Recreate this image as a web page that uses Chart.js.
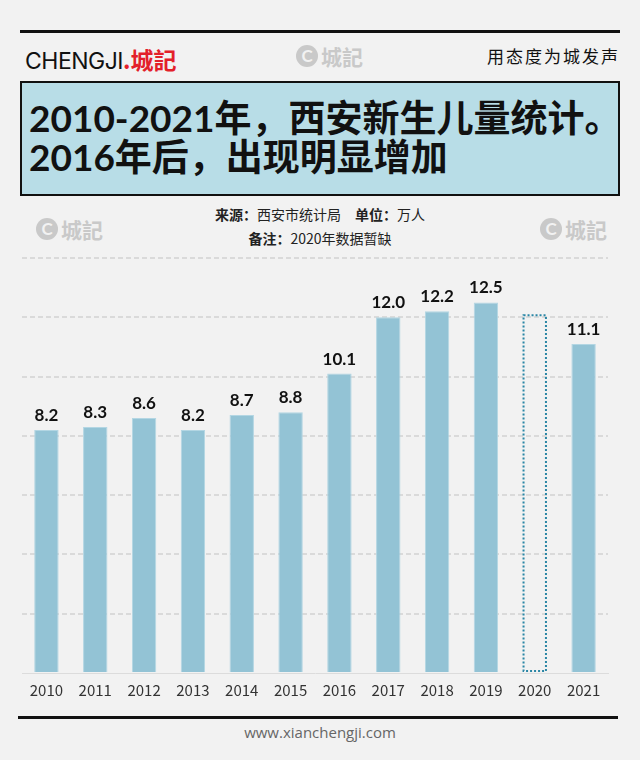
<!DOCTYPE html>
<html>
<head>
<meta charset="utf-8">
<script src="https://cdn.jsdelivr.net/npm/chart.js@4"></script>
<style>
  html, body { margin: 0; padding: 0; }
  body { width: 640px; height: 760px; background: #f2f2f2; position: relative; overflow: hidden; font-family: "Noto Sans CJK SC", sans-serif; }
  .rule { position: absolute; background: #111; }
  .logo { position: absolute; left: 25px; top: 42px; font: 400 23px Inter, "Noto Sans CJK SC"; letter-spacing: -0.5px; color: #111; }
  .logo .red { color: #e3202a; font-family: "Noto Sans CJK SC"; font-weight: 700; letter-spacing: 0; }
  .slogan { position: absolute; right: 20px; top: 43px; font: 400 17px "Noto Sans CJK SC"; letter-spacing: 2px; color: #111; }
  .mark { position: absolute; display: flex; align-items: center; color: #c9c9c9; font: 700 21px "Noto Sans CJK SC"; }
  .mark b { display: inline-block; width: 22px; height: 22px; border-radius: 50%; background: #c9c9c9; color: #f2f2f2; font: 700 17px Lato; line-height: 22px; text-align: center; margin-right: 3px; }
  .titlebox { position: absolute; left: 20px; top: 81px; width: 596px; height: 111px; background: #b8dde7; border: 2px solid #111; }
  .titlebox div { position: absolute; left: 7px; font: 700 37px Lato, "Noto Sans CJK SC"; line-height: 40px; color: #111; white-space: nowrap; }
  .sub { position: absolute; left: 0; width: 640px; text-align: center; font: 400 14px "Noto Sans CJK SC"; color: #222; }
  .sub b { font-weight: 700; }
  .chartbox { position: absolute; left: 0; top: 250px; width: 640px; height: 460px; }
  .url { position: absolute; left: 0; width: 640px; top: 722px; text-align: center; font: 400 15px "Open Sans"; color: #666; }
</style>
</head>
<body>
<div class="rule" style="left:20px; top:30px; width:600px; height:3px"></div>
<div class="logo">CHENGJI<span class="red">.城記</span></div>
<div class="mark" style="left:296px; top:41px"><b>C</b>城記</div>
<div class="slogan">用态度为城发声</div>

<div class="titlebox">
  <div style="top:15px">2010-2021年，西安新生儿量统计。</div>
  <div style="top:54px">2016年后，出现明显增加</div>
</div>

<div class="sub" style="top:204px"><b>来源：</b>西安市统计局　<b>单位：</b>万人</div>
<div class="sub" style="top:228px"><b>备注：</b>2020年数据暂缺</div>
<div class="mark" style="left:36px; top:214px"><b>C</b>城記</div>
<div class="mark" style="left:540px; top:214px"><b>C</b>城記</div>

<div class="chartbox"><canvas id="births"></canvas></div>

<div class="rule" style="left:18px; top:716px; width:600px; height:3px"></div>
<div class="url">www.xianchengji.com</div>

<script>
const years = ['2010', '2011', '2012', '2013', '2014', '2015', '2016', '2017', '2018', '2019', '2020', '2021']
const births = [8.2, 8.3, 8.6, 8.2, 8.7, 8.8, 10.1, 12.0, 12.2, 12.5, null, 11.1]
// 2020 has no data, only a dotted placeholder bar
const missing = [null, null, null, null, null, null, null, null, null, null, 12.1, null]

const barLabels = {
  id: 'barLabels',
  afterDatasetsDraw (chart) {
    const ctx = chart.ctx
    ctx.save()
    ctx.font = 'bold 17px Lato'
    ctx.fillStyle = '#111'
    ctx.textAlign = 'center'
    ctx.textBaseline = 'bottom'
    chart.getDatasetMeta(0).data.forEach((bar, i) => {
      if (births[i] == null) return
      ctx.fillText(births[i].toFixed(1), bar.x, bar.y - 6)
    })
    ctx.setLineDash([2, 2])
    ctx.lineWidth = 2
    ctx.strokeStyle = '#2a86a5'
    chart.getDatasetMeta(1).data.forEach((bar, i) => {
      if (missing[i] == null) return
      const w = bar.width - 2
      ctx.strokeRect(bar.x - w / 2, bar.y + 1, w, bar.base - bar.y - 2)
    })
    ctx.restore()
  }
}

window.addEventListener('load', function () {
  const ctx = document.getElementById('births').getContext('2d')
  // eslint-disable-next-line no-unused-vars
  const chart = new Chart(ctx, {
    type: 'bar',
    data: {
      labels: years,
      datasets: [
        {
          data: births,
          backgroundColor: '#93c3d5',
          borderColor: '#b3d6e3',
          borderWidth: 1,
          grouped: false,
          categoryPercentage: 1,
          barPercentage: 0.5
        },
        {
          data: missing,
          backgroundColor: 'rgba(0,0,0,0)',
          borderWidth: 0,
          grouped: false,
          categoryPercentage: 1,
          barPercentage: 0.5
        }
      ]
    },
    options: {
      responsive: true,
      maintainAspectRatio: false,
      animation: false,
      layout: { padding: { left: 22, right: 32, top: 8, bottom: 3 } },
      plugins: {
        legend: { display: false },
        tooltip: { enabled: false }
      },
      scales: {
        x: {
          grid: { display: false, drawTicks: false },
          border: { display: true, color: '#dcdcdc', width: 1 },
          ticks: { color: '#333', padding: 8, font: { family: 'Noto Sans CJK SC', size: 15 } }
        },
        y: {
          min: 0,
          max: 14,
          ticks: { stepSize: 2, display: false },
          grid: {
            drawTicks: false,
            lineWidth: 2,
            color: (c) => (c.tick && c.tick.value === 0 ? 'rgba(0,0,0,0)' : '#dadada')
          },
          border: { display: false, dash: [5, 3] },
          afterFit: (s) => { s.width = 0 }
        }
      }
    },
    plugins: [barLabels]
  })
})
</script>
</body>
</html>
